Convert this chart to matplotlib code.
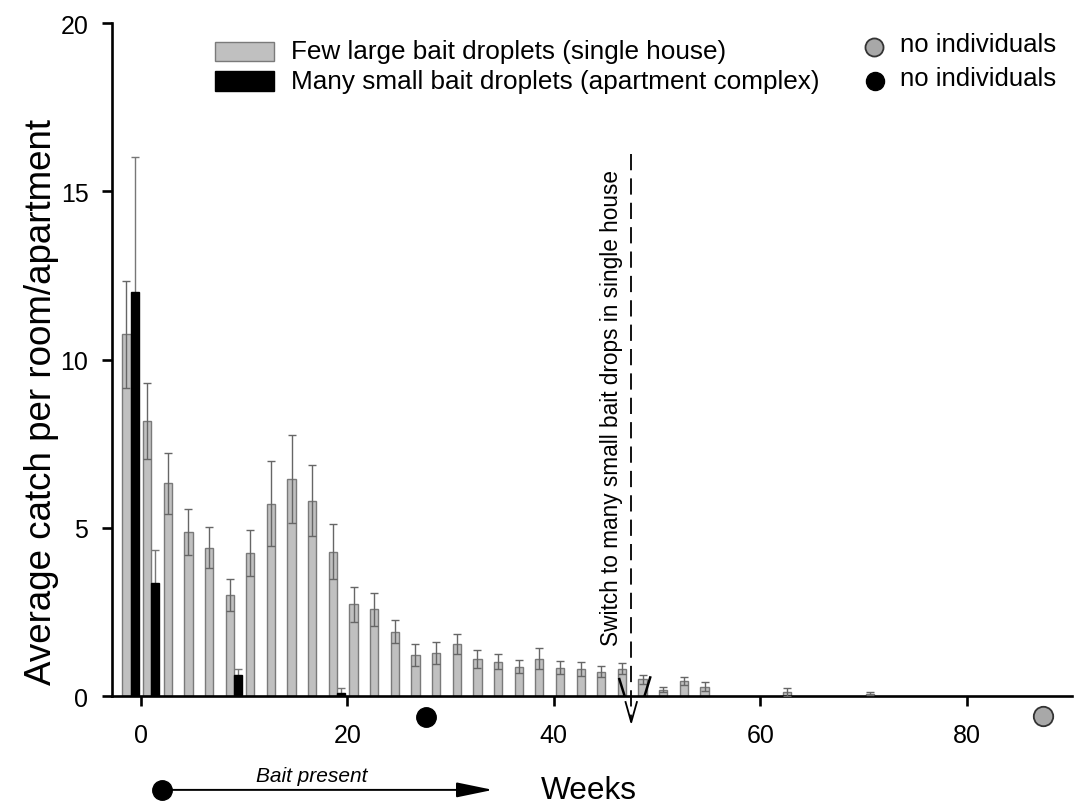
import matplotlib
matplotlib.use('Agg')
import matplotlib.pyplot as plt
from matplotlib.patches import Rectangle
from matplotlib.lines import Line2D

plt.rcParams['font.family'] = ['Liberation Sans', 'DejaVu Sans']

# weeks of sampling (centre of each pair of bars)
house_weeks = [-1, 1, 3, 5, 7, 9, 11, 13, 15, 17, 19, 21, 23, 25, 27, 29, 31, 33,
               35, 37, 39, 41, 43, 45, 47, 49, 51, 53, 55, 63, 71]
house_mean = [10.75, 8.18, 6.33, 4.89, 4.42, 3.00, 4.26, 5.72, 6.45, 5.81, 4.30,
              2.73, 2.58, 1.92, 1.22, 1.28, 1.55, 1.11, 1.03, 0.88, 1.11, 0.85,
              0.82, 0.73, 0.82, 0.50, 0.20, 0.46, 0.28, 0.12, 0.08]
house_se = [1.58, 1.13, 0.91, 0.68, 0.62, 0.47, 0.69, 1.27, 1.30, 1.05, 0.83,
            0.51, 0.50, 0.34, 0.33, 0.32, 0.29, 0.28, 0.22, 0.20, 0.31, 0.19,
            0.21, 0.17, 0.17, 0.14, 0.08, 0.11, 0.13, 0.12, 0.04]

apt_weeks = [-1, 1, 9, 19]
apt_mean = [12.0, 3.37, 0.62, 0.10]
apt_se = [4.02, 0.99, 0.19, 0.15]

# weeks from which no individuals were caught
house_zero_week = 87.4
apt_zero_week = 27.6

switch_week = 47.5
bait_start, bait_end = 2, 34.1

W, H = 1078, 804


def fx(px):
    return px / W


def fy(py):
    return 1 - py / H


fig = plt.figure(figsize=(W / 100, H / 100), dpi=100)
ax = fig.add_axes([fx(112), fy(697.3), 960 / W, 673.3 / H])

bw = 0.8
ax.bar([w - 0.4 for w in house_weeks], house_mean, width=bw, color='#c0c0c0',
       edgecolor='#7a7a7a', linewidth=1.0, zorder=2)
ax.errorbar([w - 0.4 for w in house_weeks], house_mean, yerr=house_se, fmt='none',
            ecolor='#666666', elinewidth=1.0, capsize=3, capthick=1.0, zorder=3)
ax.bar([w + 0.4 for w in apt_weeks], apt_mean, width=bw, color='black',
       edgecolor='black', linewidth=1.0, zorder=2)
ax.errorbar([w + 0.4 for w in apt_weeks], apt_mean, yerr=apt_se, fmt='none',
            ecolor='#777777', elinewidth=1.0, capsize=3, capthick=1.0, zorder=1)

# "no individuals" markers below the axis
ax.plot(apt_zero_week, -0.61, 'o', ms=14, color='black', clip_on=False, zorder=5)
ax.plot(house_zero_week, -0.58, 'o', ms=14, markerfacecolor='#a8a8a8',
        markeredgecolor='#333333', markeredgewidth=1.3, clip_on=False, zorder=5)

# switch of bait in single house
ax.plot([switch_week, switch_week], [16.1, -0.75], color='black', lw=1.3,
        dashes=(9, 4.5), clip_on=False, zorder=4)
ax.plot([switch_week - 0.55, switch_week, switch_week + 0.55], [-0.17, -0.77, -0.17],
        color='black', lw=1.3, clip_on=False, zorder=4)
ax.plot([46.35, 46.87], [0.51, 0.0], color='black', lw=1.8, zorder=4)
ax.plot([48.78, 49.34], [0.0, 0.56], color='black', lw=1.8, zorder=4)
ax.text(switch_week - 1.9, 8.58, 'Switch to many small bait drops in single house',
        rotation=90, ha='center', va='center', fontsize=16.3)

# bait present period
ax.annotate('', xy=(bait_end, -2.78), xytext=(bait_start, -2.78),
            arrowprops=dict(arrowstyle='-|>,head_length=1.6,head_width=0.33',
                            mutation_scale=14, color='black', lw=1.4,
                            shrinkA=0, shrinkB=0),
            annotation_clip=False)
ax.plot(bait_start, -2.78, 'o', ms=14, color='black', clip_on=False)
ax.text(16.55, -2.34, 'Bait present', style='italic', ha='center', va='center',
        fontsize=15)

ax.set_xlim(-2.8, 90.2)
ax.set_ylim(0, 20)
ax.set_xticks([0, 20, 40, 60, 80])
ax.set_yticks([0, 5, 10, 15, 20])
for s in ['top', 'right']:
    ax.spines[s].set_visible(False)
for s in ['left', 'bottom']:
    ax.spines[s].set_linewidth(1.9)
ax.tick_params(axis='both', direction='out', length=7, width=1.9, labelsize=18)
ax.tick_params(axis='x', pad=12)
ax.tick_params(axis='y', pad=10)

ax.set_xlabel('Weeks', fontsize=22.8, va='center')
ax.xaxis.set_label_coords(0.497, -0.139)
ax.set_ylabel('Average catch per room/apartment', fontsize=26.5, va='center')
ax.yaxis.set_label_coords(-0.073, 0.439)

# legend
fig.add_artist(Rectangle((fx(215), fy(62.3)), 59 / W, 19.6 / H, transform=fig.transFigure,
                         facecolor='#c0c0c0', edgecolor='#7a7a7a', lw=1.0))
fig.add_artist(Rectangle((fx(215), fy(91.7)), 59 / W, 19.4 / H, transform=fig.transFigure,
                         facecolor='black', edgecolor='black', lw=1.0))
fig.text(fx(290.7), fy(51.7), 'Few large bait droplets (single house)', fontsize=18.8,
         ha='left', va='center')
fig.text(fx(290.7), fy(81.7), 'Many small bait droplets (apartment complex)', fontsize=18.8,
         ha='left', va='center')
fig.add_artist(Line2D([fx(874.3)], [fy(47.7)], marker='o', ms=13, markerfacecolor='#a8a8a8',
                      markeredgecolor='#333333', markeredgewidth=1.3, transform=fig.transFigure))
fig.add_artist(Line2D([fx(875)], [fy(81.7)], marker='o', ms=13, color='black',
                      transform=fig.transFigure))
fig.text(fx(900), fy(45), 'no individuals', fontsize=18.5, ha='left', va='center')
fig.text(fx(900), fy(79), 'no individuals', fontsize=18.5, ha='left', va='center')

fig.savefig('out.png', dpi=100)
